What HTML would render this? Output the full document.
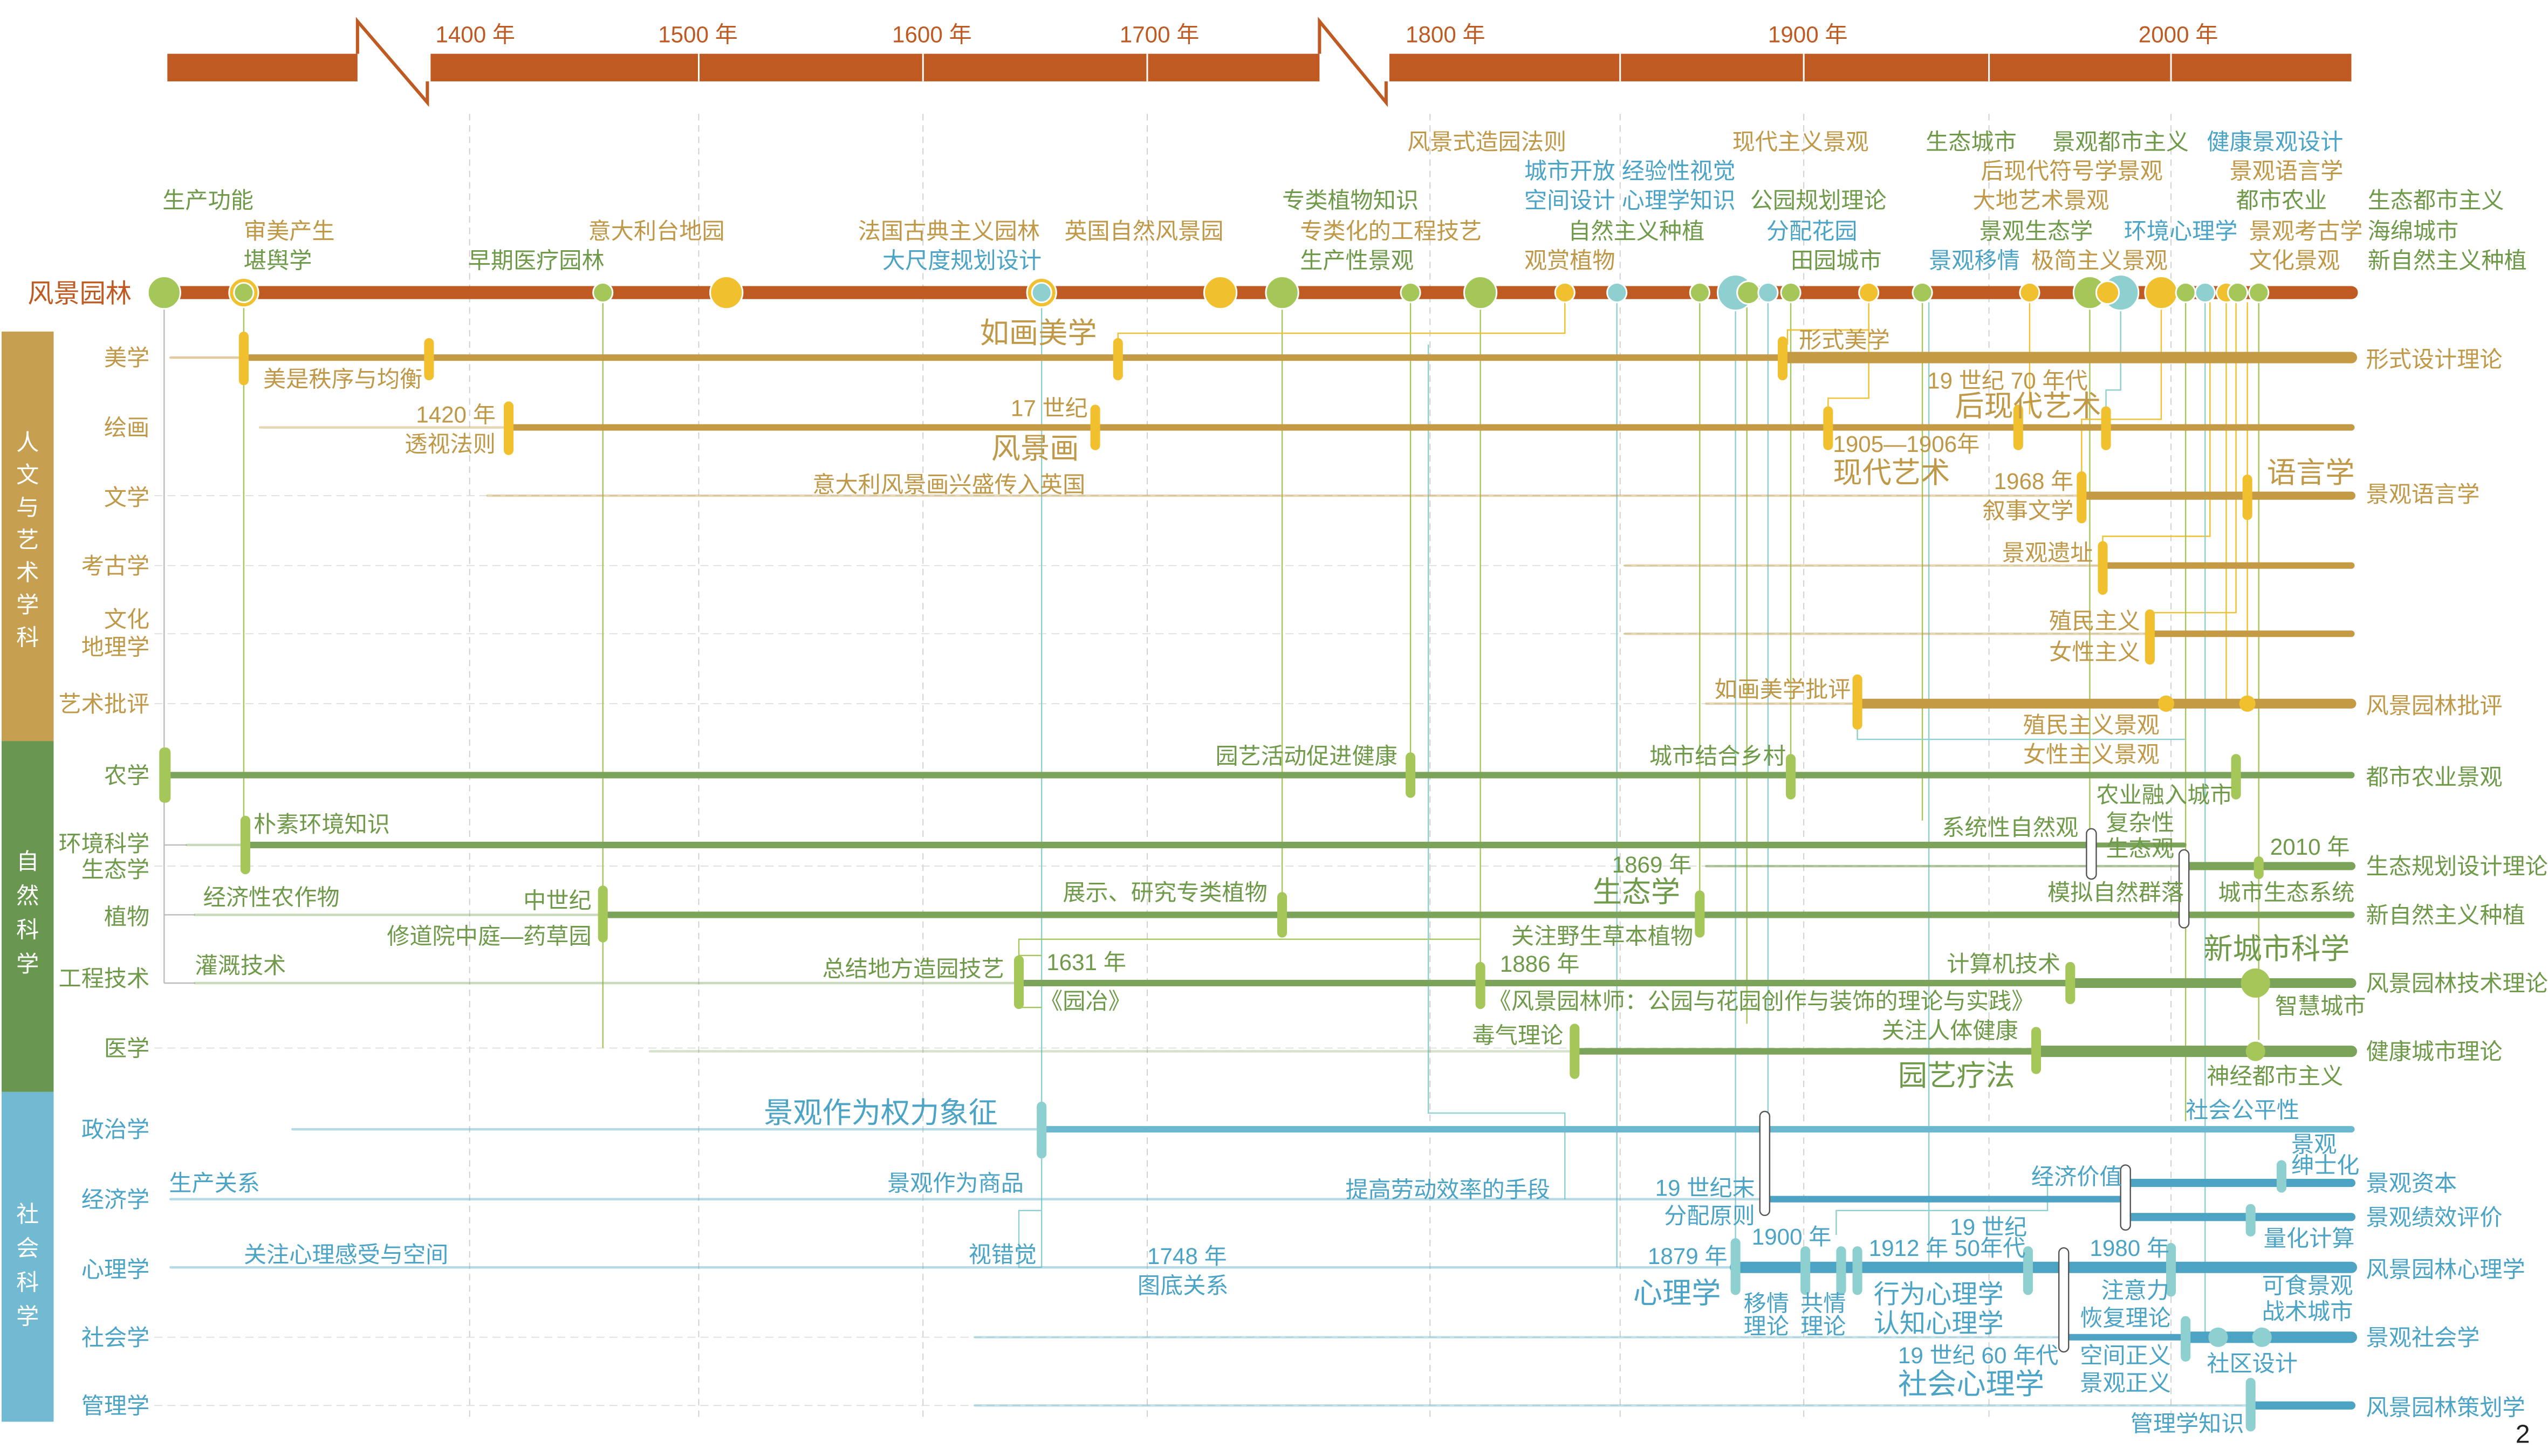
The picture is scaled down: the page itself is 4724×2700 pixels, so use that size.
<!DOCTYPE html>
<html><head><meta charset="utf-8"><style>
html,body{margin:0;padding:0;background:#fff}
svg{display:block}
text{font-family:"Liberation Sans","Noto Sans CJK SC",sans-serif;font-size:14px}
.o{fill:#BE5A22}.g{fill:#BF9848}.gr{fill:#6F9A4A}.b{fill:#4BA3C5}.w{fill:#fff}
.big{font-size:18px}
.yl{fill:#F0C02E}.lg{fill:#A5C75A}.tb{fill:#8ECFD0}
</style></head><body>
<svg width="4724" height="2700" viewBox="0 0 1568 896" xmlns="http://www.w3.org/2000/svg">
<rect width="1568" height="896" fill="#fff"/>
<g stroke="#ccc" stroke-width="0.6" stroke-dasharray="4,3">
<line x1="289" y1="70" x2="289" y2="875"/><line x1="430" y1="70" x2="430" y2="875"/>
<line x1="568" y1="70" x2="568" y2="875"/><line x1="706" y1="70" x2="706" y2="875"/>
<line x1="880" y1="70" x2="880" y2="875"/><line x1="997" y1="70" x2="997" y2="875"/>
<line x1="1110" y1="70" x2="1110" y2="875"/><line x1="1224" y1="70" x2="1224" y2="875"/>
<line x1="1336" y1="70" x2="1336" y2="875"/>
</g>
<g stroke="#ddd" stroke-width="0.6" stroke-dasharray="5,3">
<line x1="95" y1="305" x2="1447" y2="305"/><line x1="95" y1="348" x2="1447" y2="348"/>
<line x1="95" y1="390" x2="1447" y2="390"/><line x1="95" y1="433" x2="1447" y2="433"/>
<line x1="95" y1="533" x2="1447" y2="533"/><line x1="95" y1="645" x2="1447" y2="645"/>
<line x1="95" y1="823" x2="1447" y2="823"/><line x1="95" y1="865" x2="1447" y2="865"/>
</g>
<rect x="103" y="33" width="117" height="17" fill="#BE5A22"/>
<rect x="265" y="33" width="547" height="17" fill="#BE5A22"/>
<rect x="855" y="33" width="592" height="17" fill="#BE5A22"/>
<polyline points="220,33 220,13 263,63 263,50" fill="none" stroke="#BE5A22" stroke-width="2"/>
<polyline points="812,33 812,13 853,63 853,50" fill="none" stroke="#BE5A22" stroke-width="2"/>
<g stroke="#fff" stroke-width="1"><line x1="430" y1="33" x2="430" y2="50"/><line x1="568" y1="33" x2="568" y2="50"/><line x1="706" y1="33" x2="706" y2="50"/><line x1="997" y1="33" x2="997" y2="50"/><line x1="1110" y1="33" x2="1110" y2="50"/><line x1="1224" y1="33" x2="1224" y2="50"/><line x1="1336" y1="33" x2="1336" y2="50"/></g>
<g class="o" style="font-size:16px"><text x="268" y="26">1400 年</text><text x="405" y="26">1500 年</text><text x="549" y="26">1600 年</text><text x="689" y="26">1700 年</text><text x="865" y="26">1800 年</text><text x="1088" y="26">1900 年</text><text x="1316" y="26">2000 年</text></g>

<rect x="1" y="204" width="32" height="252" fill="#C6A050"/>
<rect x="1" y="456" width="32" height="216" fill="#6A9750"/>
<rect x="1" y="672" width="32" height="203" fill="#72B9D2"/>
<g class="w" style="font-size:17px" text-anchor="middle">
<text x="17" y="277">人</text><text x="17" y="297">文</text><text x="17" y="317">与</text><text x="17" y="337">艺</text><text x="17" y="357">术</text><text x="17" y="377">学</text><text x="17" y="397">科</text>
<text x="17" y="535">自</text><text x="17" y="556">然</text><text x="17" y="577">科</text><text x="17" y="598">学</text>
<text x="17" y="752">社</text><text x="17" y="773">会</text><text x="17" y="794">科</text><text x="17" y="815">学</text>
</g>
<g class="g" text-anchor="end"><text x="92" y="225">美学</text><text x="92" y="268">绘画</text><text x="92" y="311">文学</text><text x="92" y="353">考古学</text><text x="92" y="386">文化</text><text x="92" y="403">地理学</text><text x="92" y="438">艺术批评</text></g>
<g class="gr" text-anchor="end"><text x="92" y="482">农学</text><text x="92" y="524">环境科学</text><text x="92" y="540">生态学</text><text x="92" y="569">植物</text><text x="92" y="607">工程技术</text><text x="92" y="650">医学</text></g>
<g class="b" text-anchor="end"><text x="92" y="700">政治学</text><text x="92" y="743">经济学</text><text x="92" y="786">心理学</text><text x="92" y="828">社会学</text><text x="92" y="870">管理学</text></g>

<g fill="none" stroke-width="0.8">
<line x1="150" y1="186" x2="150" y2="505" stroke="#A5C75A"/>
<line x1="101" y1="186" x2="101" y2="605" stroke="#bbb"/>
<line x1="101" y1="520" x2="115" y2="520" stroke="#bbb"/><line x1="101" y1="563" x2="120" y2="563" stroke="#bbb"/><line x1="101" y1="605" x2="120" y2="605" stroke="#bbb"/>
<line x1="371" y1="186" x2="371" y2="645" stroke="#A5C75A"/>
<line x1="641" y1="186" x2="641" y2="780" stroke="#8ECFD0"/>
<polyline points="641,588 627,588 627,620 641,620" stroke="#A5C75A"/>
<polyline points="641,745 627,745 627,780 641,780" stroke="#8ECFD0"/>
<line x1="789" y1="186" x2="789" y2="550" stroke="#A5C75A"/>
<line x1="868" y1="186" x2="868" y2="465" stroke="#A5C75A"/>
<line x1="911" y1="186" x2="911" y2="592" stroke="#A5C75A"/>
<polyline points="627,588 627,578 911,578" stroke="#A5C75A"/>
<polyline points="963,186 963,205 688,205 688,214" stroke="#F0C02E"/>
<line x1="995" y1="186" x2="995" y2="780" stroke="#8ECFD0"/>
<polyline points="879,212 879,685 963,685 963,738" stroke="#8ECFD0"/>
<line x1="1046" y1="186" x2="1046" y2="550" stroke="#A5C75A"/>
<line x1="1068" y1="186" x2="1068" y2="770" stroke="#8ECFD0"/>
<line x1="1075" y1="186" x2="1075" y2="630" stroke="#A5C75A"/>
<line x1="1088" y1="186" x2="1088" y2="685" stroke="#8ECFD0"/>
<line x1="1102" y1="186" x2="1102" y2="470" stroke="#A5C75A"/>
<polyline points="1150,186 1150,203 1100,203 1100,212" stroke="#F0C02E"/>
<polyline points="1150,200 1150,245 1125,245 1125,255" stroke="#F0C02E"/>
<line x1="1183" y1="186" x2="1183" y2="505" stroke="#A5C75A"/>
<line x1="1187" y1="186" x2="1187" y2="780" stroke="#8ECFD0"/>
<line x1="1249" y1="186" x2="1249" y2="255" stroke="#F0C02E"/>
<line x1="1286" y1="186" x2="1286" y2="512" stroke="#A5C75A"/>
<polyline points="1305,186 1305,240 1296,240 1296,255" stroke="#8ECFD0"/>
<polyline points="1330,186 1330,258 1281,258 1281,292" stroke="#F0C02E"/>
<polyline points="1360,186 1360,330 1294,330 1294,336" stroke="#F0C02E"/>
<polyline points="1376,186 1376,377 1323,377" stroke="#F0C02E"/>
<line x1="1345" y1="186" x2="1345" y2="690" stroke="#A5C75A"/>
<line x1="1357" y1="186" x2="1357" y2="823" stroke="#8ECFD0"/>
<line x1="1370" y1="186" x2="1370" y2="433" stroke="#F0C02E"/>
<line x1="1383" y1="186" x2="1383" y2="433" stroke="#F0C02E"/>
<line x1="1390" y1="186" x2="1390" y2="640" stroke="#A5C75A"/>
<polyline points="1143,420 1143,455 1345,455" stroke="#8ECFD0"/>
<polyline points="1130,760 1130,745 1260,745 1260,720" stroke="#8ECFD0"/>
</g>

<line x1="100" y1="180" x2="1447" y2="180" stroke="#BE5A22" stroke-width="8" stroke-linecap="round"/>
<text x="17" y="186" class="o" style="font-size:16px">风景园林</text>
<g stroke="#fff" stroke-width="1">
<circle cx="101" cy="180" r="10" class="lg"/>
<circle cx="150" cy="180" r="9" class="yl"/><circle cx="150" cy="180" r="6" class="lg"/>
<circle cx="371" cy="180" r="6" class="lg"/>
<circle cx="447" cy="180" r="10" class="yl"/>
<circle cx="641" cy="180" r="9" class="yl"/><circle cx="641" cy="180" r="6" class="tb"/>
<circle cx="751" cy="180" r="10" class="yl"/>
<circle cx="789" cy="180" r="10" class="lg"/>
<circle cx="868" cy="180" r="6" class="lg"/>
<circle cx="911" cy="180" r="10" class="lg"/>
<circle cx="963" cy="180" r="6" class="yl"/>
<circle cx="995" cy="180" r="6" class="tb"/>
<circle cx="1046" cy="180" r="6" class="lg"/>
<circle cx="1068" cy="180" r="11" class="tb"/>
<circle cx="1076" cy="180" r="7" class="lg"/>
<circle cx="1088" cy="180" r="6" class="tb"/>
<circle cx="1102" cy="180" r="6" class="lg"/>
<circle cx="1150" cy="180" r="6" class="yl"/>
<circle cx="1183" cy="180" r="6" class="lg"/>
<circle cx="1249" cy="180" r="6" class="yl"/>
<circle cx="1305" cy="180" r="11" class="tb"/>
<circle cx="1286" cy="180" r="10" class="lg"/>
<circle cx="1297" cy="180" r="7" class="yl"/>
<circle cx="1330" cy="180" r="10" class="yl"/>
<circle cx="1345" cy="180" r="6" class="lg"/>
<circle cx="1357" cy="180" r="6" class="tb"/>
<circle cx="1370" cy="180" r="6" class="yl"/>
<circle cx="1377" cy="180" r="6" class="lg"/>
<circle cx="1390" cy="180" r="6" class="lg"/>
</g>

<g class="gr"><text x="100" y="128">生产功能</text><text x="150" y="165">堪舆学</text><text x="288" y="165">早期医疗园林</text><text x="789" y="128">专类植物知识</text><text x="800" y="165">生产性景观</text><text x="965" y="147">自然主义种植</text><text x="1077" y="128">公园规划理论</text><text x="1102" y="165">田园城市</text><text x="1185" y="92">生态城市</text><text x="1263" y="92">景观都市主义</text><text x="1376" y="128">都市农业</text><text x="1457" y="128">生态都市主义</text><text x="1218" y="147">景观生态学</text><text x="1457" y="147">海绵城市</text><text x="1457" y="165">新自然主义种植</text></g>
<g class="g"><text x="150" y="147">审美产生</text><text x="362" y="147">意大利台地园</text><text x="528" y="147">法国古典主义园林</text><text x="655" y="147">英国自然风景园</text><text x="800" y="147">专类化的工程技艺</text><text x="866" y="92">风景式造园法则</text><text x="938" y="165">观赏植物</text><text x="1066" y="92">现代主义景观</text><text x="1219" y="110">后现代符号学景观</text><text x="1372" y="110">景观语言学</text><text x="1214" y="128">大地艺术景观</text><text x="1384" y="147">景观考古学</text><text x="1250" y="165">极简主义景观</text><text x="1384" y="165">文化景观</text></g>
<g class="b"><text x="543" y="165">大尺度规划设计</text><text x="938" y="110">城市开放</text><text x="938" y="128">空间设计</text><text x="998" y="110">经验性视觉</text><text x="998" y="128">心理学知识</text><text x="1087" y="147">分配花园</text><text x="1358" y="92">健康景观设计</text><text x="1307" y="147">环境心理学</text><text x="1187" y="165">景观移情</text></g>

<g stroke="#C49A45" stroke-linecap="round">
<line x1="105" y1="220" x2="150" y2="220" stroke-width="1.5" opacity="0.5"/>
<line x1="150" y1="220" x2="1097" y2="220" stroke-width="4"/>
<line x1="1097" y1="220" x2="1447" y2="220" stroke-width="7"/>
<line x1="160" y1="263" x2="313" y2="263" stroke-width="1.5" opacity="0.4"/>
<line x1="313" y1="263" x2="1447" y2="263" stroke-width="4"/>
<line x1="300" y1="305" x2="1281" y2="305" stroke-width="1.5" opacity="0.4"/>
<line x1="1281" y1="305" x2="1447" y2="305" stroke-width="5"/>
<line x1="1000" y1="348" x2="1294" y2="348" stroke-width="1.5" opacity="0.4"/>
<line x1="1294" y1="348" x2="1447" y2="348" stroke-width="4"/>
<line x1="1000" y1="390" x2="1323" y2="390" stroke-width="1.5" opacity="0.4"/>
<line x1="1323" y1="390" x2="1447" y2="390" stroke-width="4"/>
<line x1="1050" y1="433" x2="1143" y2="433" stroke-width="1.5" opacity="0.4"/>
<line x1="1143" y1="433" x2="1447" y2="433" stroke-width="6"/>
</g>
<g class="yl">
<rect x="147" y="204" width="6" height="33" rx="3"/><rect x="261" y="208" width="6" height="26" rx="3"/><rect x="685" y="208" width="6" height="26" rx="3"/><rect x="1094" y="207" width="6" height="27" rx="3"/>
<rect x="310" y="247" width="6" height="33" rx="3"/><rect x="671" y="249" width="6" height="28" rx="3"/><rect x="1122" y="250" width="6" height="27" rx="3"/><rect x="1239" y="249" width="6" height="28" rx="3"/><rect x="1293" y="250" width="6" height="27" rx="3"/>
<rect x="1278" y="290" width="6" height="32" rx="3"/><rect x="1380" y="292" width="6" height="28" rx="3"/>
<rect x="1291" y="333" width="6" height="33" rx="3"/>
<rect x="1320" y="375" width="6" height="34" rx="3"/>
<rect x="1140" y="415" width="6" height="34" rx="3"/>
<circle cx="1333" cy="433" r="5"/><circle cx="1383" cy="433" r="5"/>
</g>
<g class="g">
<text x="162" y="238">美是秩序与均衡</text><text x="603" y="211" class="big">如画美学</text><text x="1107" y="214">形式美学</text>
<text x="305" y="260" text-anchor="end">1420 年</text><text x="305" y="278" text-anchor="end">透视法则</text>
<text x="622" y="256">17 世纪</text><text x="610" y="282" class="big">风景画</text>
<text x="1128" y="278">1905—1906年</text><text x="1128" y="297" class="big">现代艺术</text>
<text x="1186" y="239">19 世纪 70 年代</text><text x="1203" y="256" class="big">后现代艺术</text>
<text x="500" y="303">意大利风景画兴盛传入英国</text>
<text x="1276" y="301" text-anchor="end">1968 年</text><text x="1276" y="319" text-anchor="end">叙事文学</text><text x="1395" y="297" class="big">语言学</text>
<text x="1288" y="345" text-anchor="end">景观遗址</text>
<text x="1317" y="387" text-anchor="end">殖民主义</text><text x="1317" y="406" text-anchor="end">女性主义</text>
<text x="1055" y="429">如画美学批评</text><text x="1245" y="451">殖民主义景观</text><text x="1245" y="469">女性主义景观</text>
<text x="1456" y="226">形式设计理论</text><text x="1456" y="309">景观语言学</text><text x="1456" y="439">风景园林批评</text>
</g>

<g stroke="#7BA35A" stroke-linecap="round">
<line x1="101" y1="477" x2="1447" y2="477" stroke-width="4"/>
<line x1="115" y1="520" x2="151" y2="520" stroke-width="1.5" opacity="0.4"/>
<line x1="151" y1="520" x2="1287" y2="520" stroke-width="4"/>
<line x1="1287" y1="520" x2="1344" y2="520" stroke-width="3"/>
<line x1="1050" y1="533" x2="1344" y2="533" stroke-width="1.5" opacity="0.6"/>
<line x1="1344" y1="533" x2="1447" y2="533" stroke-width="5"/>
<line x1="120" y1="563" x2="371" y2="563" stroke-width="1.5" opacity="0.4"/>
<line x1="371" y1="563" x2="1447" y2="563" stroke-width="4"/>
<line x1="120" y1="605" x2="627" y2="605" stroke-width="1.5" opacity="0.4"/>
<line x1="627" y1="605" x2="1274" y2="605" stroke-width="4"/>
<line x1="1274" y1="605" x2="1447" y2="605" stroke-width="6"/>
<line x1="400" y1="647" x2="969" y2="647" stroke-width="1.5" opacity="0.3"/>
<line x1="969" y1="647" x2="1253" y2="647" stroke-width="4"/>
<line x1="1253" y1="647" x2="1447" y2="647" stroke-width="7"/>
</g>
<g class="lg">
<rect x="98" y="460" width="7" height="34" rx="3"/><rect x="865" y="463" width="6" height="28" rx="3"/><rect x="1099" y="464" width="6" height="28" rx="3"/><rect x="1373" y="464" width="6" height="28" rx="3"/>
<rect x="148" y="502" width="6" height="36" rx="3"/><rect x="1387" y="527" width="6" height="14" rx="3"/>
<rect x="368" y="545" width="6" height="35" rx="3"/><rect x="786" y="549" width="6" height="28" rx="3"/><rect x="1043" y="548" width="6" height="29" rx="3"/>
<rect x="624" y="588" width="6" height="33" rx="3"/><rect x="908" y="592" width="6" height="29" rx="3"/><rect x="1271" y="592" width="6" height="26" rx="3"/>
<circle cx="1388" cy="605" r="9"/>
<rect x="966" y="630" width="6" height="34" rx="3"/><rect x="1250" y="632" width="6" height="29" rx="3"/>
<circle cx="1388" cy="647" r="6"/>
</g>
<g fill="#fff" stroke="#555" stroke-width="0.8"><rect x="1284" y="510" width="6" height="31" rx="3"/><rect x="1341" y="523" width="6" height="48" rx="3"/></g>
<g class="gr">
<text x="748" y="470">园艺活动促进健康</text><text x="1015" y="470">城市结合乡村</text>
<text x="156" y="512">朴素环境知识</text><text x="1195" y="514">系统性自然观</text><text x="1290" y="494">农业融入城市</text><text x="1296" y="511">复杂性</text><text x="1296" y="527">生态观</text><text x="1397" y="526">2010 年</text>
<text x="125" y="557">经济性农作物</text><text x="364" y="559" text-anchor="end">中世纪</text><text x="364" y="581" text-anchor="end">修道院中庭—药草园</text><text x="654" y="554">展示、研究专类植物</text><text x="992" y="537">1869 年</text><text x="980" y="555" class="big">生态学</text><text x="930" y="581">关注野生草本植物</text><text x="1260" y="554">模拟自然群落</text><text x="1365" y="554">城市生态系统</text>
<text x="120" y="599">灌溉技术</text><text x="618" y="601" text-anchor="end">总结地方造园技艺</text><text x="644" y="597">1631 年</text><text x="640" y="621">《园冶》</text><text x="923" y="598">1886 年</text><text x="916" y="621">《风景园林师：公园与花园创作与装饰的理论与实践》</text><text x="1198" y="598">计算机技术</text><text x="1356" y="590" class="big">新城市科学</text><text x="1400" y="624">智慧城市</text>
<text x="962" y="642" text-anchor="end">毒气理论</text><text x="1158" y="639">关注人体健康</text><text x="1168" y="668" class="big">园艺疗法</text><text x="1358" y="667">神经都市主义</text>
<text x="1456" y="483">都市农业景观</text><text x="1456" y="538">生态规划设计理论</text><text x="1456" y="568">新自然主义种植</text><text x="1456" y="610">风景园林技术理论</text><text x="1456" y="652">健康城市理论</text>
</g>

<g stroke="#6CB8CF" stroke-linecap="round">
<line x1="180" y1="695" x2="641" y2="695" stroke-width="1.5" opacity="0.5"/>
<line x1="641" y1="695" x2="1447" y2="695" stroke-width="4"/>
<line x1="105" y1="738" x2="1086" y2="738" stroke-width="1.5" opacity="0.5"/>
<line x1="1086" y1="738" x2="1308" y2="738" stroke-width="4" stroke="#4DA3C4"/>
<line x1="1308" y1="728" x2="1447" y2="728" stroke-width="5" stroke="#4DA3C4"/>
<line x1="1308" y1="749" x2="1447" y2="749" stroke-width="5" stroke="#4DA3C4"/>
<line x1="105" y1="780" x2="1068" y2="780" stroke-width="1.5" opacity="0.5"/>
<line x1="1068" y1="780" x2="1447" y2="780" stroke-width="7" stroke="#4DA3C4"/>
<line x1="600" y1="823" x2="1270" y2="823" stroke-width="1.5" opacity="0.4"/>
<line x1="1270" y1="823" x2="1345" y2="823" stroke-width="4" stroke="#4DA3C4"/>
<line x1="1345" y1="823" x2="1447" y2="823" stroke-width="7" stroke="#4DA3C4"/>
<line x1="600" y1="865" x2="1385" y2="865" stroke-width="1.5" opacity="0.4"/>
<line x1="1385" y1="865" x2="1447" y2="865" stroke-width="5" stroke="#4DA3C4"/>
</g>
<g class="tb">
<rect x="638" y="678" width="6" height="35" rx="3"/>
<rect x="1401" y="714" width="6" height="20" rx="3"/><rect x="1382" y="741" width="6" height="20" rx="3"/>
<rect x="1065" y="762" width="6" height="35" rx="3"/><rect x="1108" y="767" width="6" height="30" rx="3"/><rect x="1130" y="767" width="6" height="30" rx="3"/><rect x="1140" y="767" width="6" height="30" rx="3"/><rect x="1245" y="767" width="6" height="30" rx="3"/><rect x="1333" y="765" width="6" height="33" rx="3"/>
<rect x="1342" y="810" width="6" height="28" rx="3"/><circle cx="1365" cy="823" r="6"/><circle cx="1392" cy="823" r="6"/>
<rect x="1382" y="848" width="6" height="33" rx="3"/>
</g>
<g fill="#fff" stroke="#555" stroke-width="0.8"><rect x="1083" y="684" width="6" height="64" rx="3"/><rect x="1305" y="717" width="6" height="40" rx="3"/><rect x="1267" y="768" width="6" height="64" rx="3"/></g>
<g class="b">
<text x="470" y="691" class="big">景观作为权力象征</text><text x="1345" y="688">社会公平性</text>
<text x="104" y="733">生产关系</text><text x="546" y="733">景观作为商品</text><text x="828" y="737">提高劳动效率的手段</text><text x="1080" y="736" text-anchor="end">19 世纪末</text><text x="1080" y="753" text-anchor="end">分配原则</text><text x="1250" y="729">经济价值</text><text x="1410" y="709">景观</text><text x="1410" y="722">绅士化</text><text x="1393" y="767">量化计算</text>
<text x="150" y="777">关注心理感受与空间</text><text x="596" y="777">视错觉</text><text x="706" y="778">1748 年</text><text x="700" y="796">图底关系</text><text x="1014" y="778">1879 年</text><text x="1005" y="802" class="big">心理学</text><text x="1078" y="766">1900 年</text><text x="1073" y="807">移情</text><text x="1073" y="821">理论</text><text x="1108" y="807">共情</text><text x="1108" y="821">理论</text><text x="1200" y="760">19 世纪</text><text x="1150" y="773">1912 年 50年代</text><text x="1153" y="802" style="font-size:16px">行为心理学</text><text x="1153" y="820" style="font-size:16px">认知心理学</text><text x="1286" y="773">1980 年</text><text x="1293" y="799">注意力</text><text x="1280" y="816">恢复理论</text><text x="1392" y="796">可食景观</text><text x="1392" y="812">战术城市</text>
<text x="1168" y="839">19 世纪 60 年代</text><text x="1168" y="858" class="big">社会心理学</text><text x="1280" y="839">空间正义</text><text x="1280" y="856">景观正义</text><text x="1358" y="844">社区设计</text>
<text x="1311" y="881">管理学知识</text>
<text x="1456" y="733">景观资本</text><text x="1456" y="754">景观绩效评价</text><text x="1456" y="786">风景园林心理学</text><text x="1456" y="828">景观社会学</text><text x="1456" y="871">风景园林策划学</text>
</g>
<text x="1548" y="888" style="font-size:16px" fill="#222">2</text>
</svg>
</body></html>
